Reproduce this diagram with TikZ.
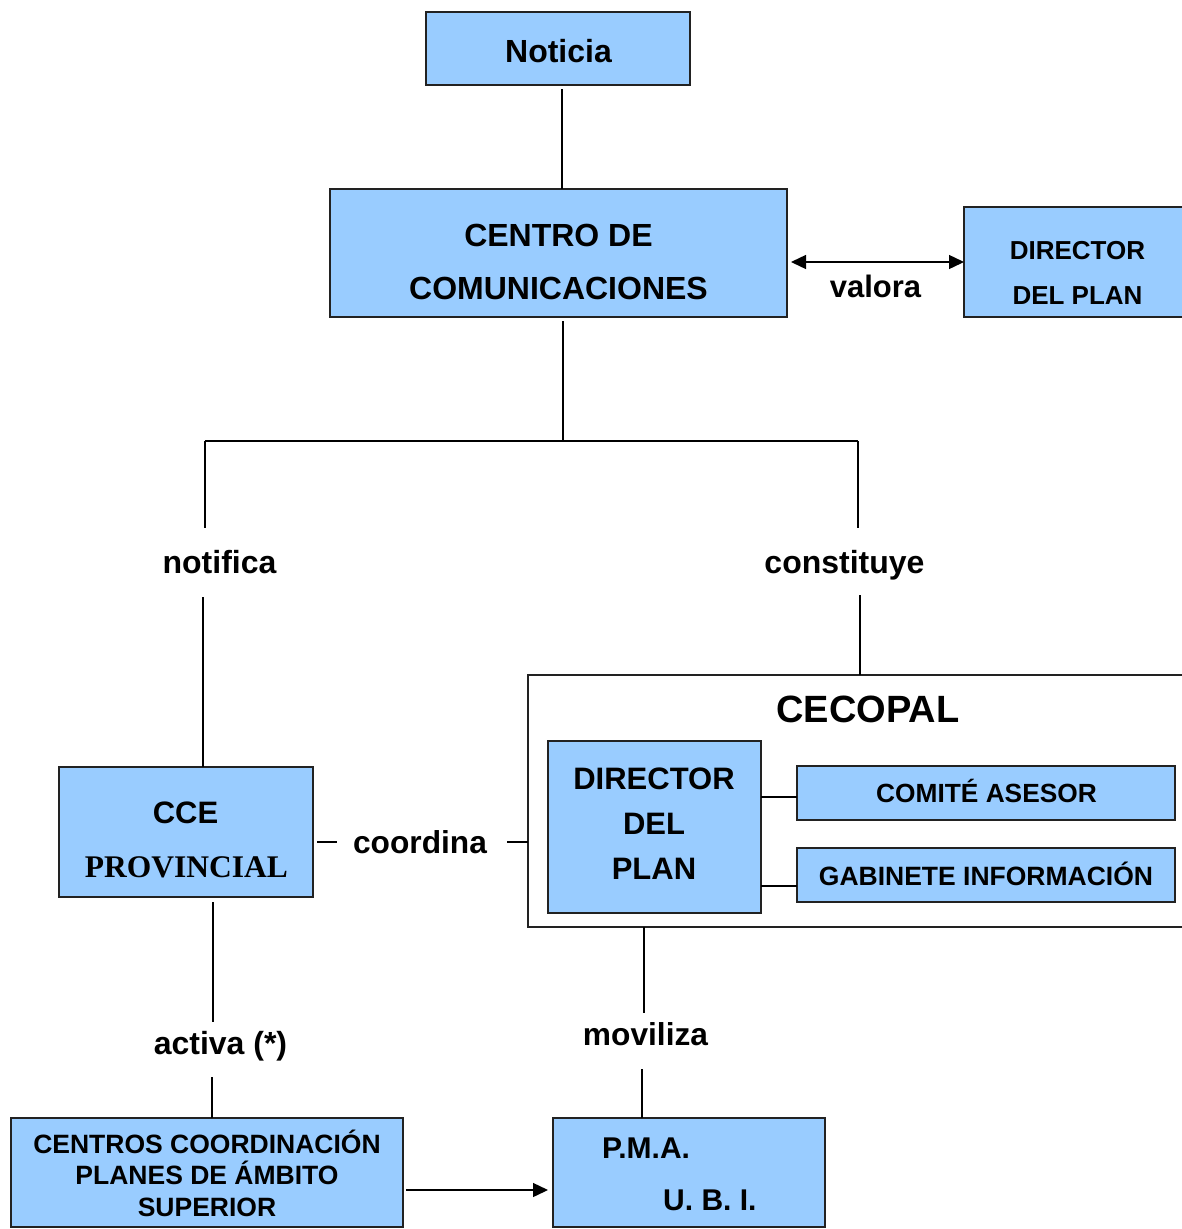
\documentclass[tikz,border=0pt]{standalone}
\usepackage{fontspec}
\setmainfont{Liberation Sans}
\newfontfamily\myserif{Liberation Serif}
\usetikzlibrary{arrows.meta}
\definecolor{boxblue}{HTML}{99CCFF}
\definecolor{edgegray}{HTML}{222222}
\newcommand\myfs[1]{\fontsize{#1pt}{#1pt}\selectfont\bfseries}
\begin{document}
\begin{tikzpicture}[x=1pt,y=-1pt,
  box/.style={draw=edgegray, fill=boxblue, line width=1.4pt, inner sep=0pt, outer sep=0pt},
  frame/.style={draw=edgegray, fill=white, line width=1.4pt, inner sep=0pt, outer sep=0pt},
  txt/.style={inner sep=0pt, anchor=base},
  conn/.style={line width=1.4pt, draw=black},
  tipb/.style={-{Triangle[length=15pt,width=14pt]}},
  tipbb/.style={{Triangle[length=15pt,width=14pt]}-{Triangle[length=15pt,width=14pt]}}]
\useasboundingbox (0,0) rectangle (1182,1229);

% boxes
\node[box, minimum width=264pt, minimum height=73pt] (noticia) at (558,48.5) {};
\node[box, minimum width=457pt, minimum height=128pt] (centro) at (558.5,253) {};
\node[box, minimum width=236pt, minimum height=110pt] (dirtop) at (1082,262) {};
\node[box, minimum width=254pt, minimum height=130pt] (cce) at (186,832) {};
\node[frame, minimum width=672pt, minimum height=252pt] (cecopal) at (864,801) {};
\node[box, minimum width=213pt, minimum height=172pt] (dir) at (654.5,827) {};
\node[box, minimum width=378pt, minimum height=54pt] (comite) at (986,793) {};
\node[box, minimum width=378pt, minimum height=54pt] (gabinete) at (986,875) {};
\node[box, minimum width=392pt, minimum height=109pt] (centros) at (207,1172.5) {};
\node[box, minimum width=272pt, minimum height=109pt] (pma) at (689,1172.5) {};

% texts
\node[txt, font=\myfs{32}] (t-noticia) at (558.5,62) {Noticia};
\node[txt, font=\myfs{32}] (t-centro1) at (558.5,246) {CENTRO DE};
\node[txt, font=\myfs{32}] (t-centro2) at (558.5,299) {COMUNICACIONES};
\node[txt, font=\myfs{26}] (t-dirtop1) at (1077.5,259) {DIRECTOR};
\node[txt, font=\myfs{26}] (t-dirtop2) at (1077.5,304) {DEL PLAN};
\node[txt, font=\myfs{31}] (t-valora) at (875.5,297) {valora};
\node[txt, font=\myfs{32}] (t-notifica) at (219.5,573) {notifica};
\node[txt, font=\myfs{32}] (t-constituye) at (844.5,573) {constituye};
\node[txt, font=\myfs{38}] (t-cecopal) at (868,722) {CECOPAL};
\node[txt, font=\myfs{31}] (t-cce1) at (185.5,823) {CCE};
\node[txt, font=\myfs{31.5}\myserif] (t-cce2) at (186.5,877) {PROVINCIAL};
\node[txt, font=\myfs{31.7}] (t-coordina) at (420,853) {coordina};
\node[txt, font=\myfs{31}] (t-dir1) at (654,789) {DIRECTOR};
\node[txt, font=\myfs{31}] (t-dir2) at (654,834) {DEL};
\node[txt, font=\myfs{31}] (t-dir3) at (654,879) {PLAN};
\node[txt, font=\myfs{26.3}] (t-comite) at (986.5,802) {COMITÉ ASESOR};
\node[txt, font=\myfs{26.5}] (t-gabinete) at (986,885) {GABINETE INFORMACIÓN};
\node[txt, font=\myfs{31.7}] (t-moviliza) at (645.5,1045) {moviliza};
\node[txt, font=\myfs{32}] (t-activa) at (220.5,1054) {activa (*)};
\node[txt, font=\myfs{26.5}] (t-centros1) at (207,1153) {CENTROS COORDINACIÓN};
\node[txt, font=\myfs{26.5}] (t-centros2) at (207,1184) {PLANES DE ÁMBITO};
\node[txt, font=\myfs{26.5}] (t-centros3) at (207,1216) {SUPERIOR};
\node[txt, anchor=base west, font=\myfs{30}] (t-pma1) at (602,1158) {P.M.A.};
\node[txt, anchor=base west, font=\myfs{30}] (t-pma2) at (663,1210) {U. B. I.};

% connector points
\coordinate (c1) at (562,89);
\coordinate (sp) at (563,441);
\coordinate (lft) at (205,441);
\coordinate (rgt) at (858,441);
\coordinate (n1) at (205,528);
\coordinate (n2) at (203,597);
\coordinate (k1) at (858,528);
\coordinate (k2) at (860,595);
\coordinate (co1) at (317,842);
\coordinate (co2) at (337,842);
\coordinate (co3) at (507,842);
\coordinate (m1) at (644,1013);
\coordinate (m2) at (642,1069);
\coordinate (a2) at (213,1022);
\coordinate (a3) at (212,1077);

% connectors
\draw[conn] (c1) -- (c1 |- centro.north);
\draw[conn] ([xshift=4.5pt,yshift=-4pt]centro.south) -- (sp);
\draw[conn] (lft) -- (rgt);
\draw[conn] (lft) -- (n1);
\draw[conn] (n2) -- (n2 |- cce.north);
\draw[conn] (rgt) -- (k1);
\draw[conn] (k2) -- (k2 |- cecopal.north);
\draw[conn, tipbb] ([xshift=4pt,yshift=-9pt]centro.east) -- ([yshift=-9pt]centro.east -| dirtop.west);
\draw[conn] (co1) -- (co2);
\draw[conn] (co3) -- (co3 -| cecopal.west);
\draw[conn] ([yshift=30pt]dir.east) -- ([yshift=30pt]dir.east -| comite.west);
\draw[conn] ([yshift=-59pt]dir.east) -- ([yshift=-59pt]dir.east -| gabinete.west);
\draw[conn] (m1 |- cecopal.south) -- (m1);
\draw[conn] (m2) -- (m2 |- pma.north);
\draw[conn] ([xshift=27pt,yshift=-5pt]cce.south) -- (a2);
\draw[conn] (a3) -- (a3 |- centros.north);
\draw[conn, tipb] ([xshift=3pt,yshift=-17.5pt]centros.east) -- ([xshift=-5pt,yshift=-17.5pt]pma.west);
\end{tikzpicture}
\end{document}
